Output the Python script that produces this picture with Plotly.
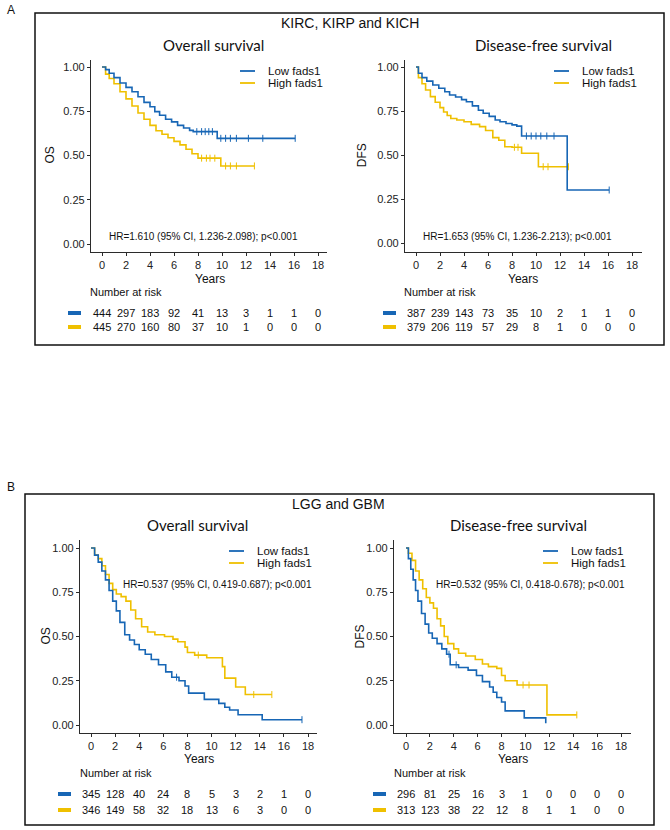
import plotly.graph_objects as go

W, H = 670, 830
BLUE = "#1766b5"
YELLOW = "#efc000"
FONT = "Liberation Sans, Arial, sans-serif"

# ---- data ----
years_ticks = [0, 2, 4, 6, 8, 10, 12, 14, 16, 18]

# A: KIRC, KIRP and KICH - overall survival
a_os_low_t = [0, 0.3, 0.6, 1.0, 1.5, 2.0, 2.5, 3.0, 3.5, 4.0, 4.4, 4.8, 5.3, 5.8, 6.3, 6.8, 7.3, 7.6, 9.6, 16.1]
a_os_low_s = [1.0, 0.985, 0.965, 0.94, 0.91, 0.885, 0.86, 0.832, 0.80, 0.775, 0.748, 0.727, 0.705, 0.69, 0.67, 0.655, 0.642, 0.635, 0.597, 0.597]
a_os_high_t = [0, 0.3, 0.6, 1.0, 1.5, 2.0, 2.5, 3.0, 3.5, 4.0, 4.5, 5.0, 5.5, 6.0, 6.5, 7.0, 7.5, 8.0, 9.9, 12.7]
a_os_high_s = [1.0, 0.96, 0.935, 0.905, 0.86, 0.82, 0.78, 0.74, 0.705, 0.67, 0.64, 0.62, 0.60, 0.58, 0.56, 0.535, 0.51, 0.485, 0.441, 0.441]
a_os_low_cens = [7.9, 8.3, 8.6, 8.9, 9.2, 9.9, 10.3, 10.7, 11.2, 12.2, 13.4, 16.1]
a_os_high_cens = [8.3, 8.7, 9.0, 9.4, 10.3, 10.7, 11.2, 12.7]

# A: disease-free survival
a_dfs_low_t = [0, 0.2, 0.5, 0.9, 1.4, 1.9, 2.4, 2.8, 3.3, 3.8, 4.2, 4.7, 5.2, 5.6, 6.1, 6.6, 7.0, 7.5, 8.0, 8.4, 8.8, 12.6, 16.1]
a_dfs_low_s = [1.0, 0.965, 0.94, 0.92, 0.898, 0.88, 0.86, 0.841, 0.83, 0.815, 0.803, 0.78, 0.755, 0.738, 0.72, 0.70, 0.69, 0.68, 0.672, 0.665, 0.609, 0.303, 0.303]
a_dfs_high_t = [0, 0.2, 0.5, 0.8, 1.2, 1.6, 2.0, 2.3, 2.6, 2.9, 3.4, 4.0, 4.6, 5.3, 5.8, 6.4, 6.9, 7.4, 8.0, 8.8, 10.2, 12.7]
a_dfs_high_s = [1.0, 0.94, 0.905, 0.87, 0.832, 0.80, 0.77, 0.745, 0.725, 0.708, 0.70, 0.69, 0.675, 0.662, 0.64, 0.60, 0.585, 0.548, 0.545, 0.511, 0.435, 0.435]
a_dfs_low_cens = [9.2, 9.6, 10.0, 10.4, 10.9, 11.5, 16.1]
a_dfs_high_cens = [8.2, 8.5, 10.6, 11.0, 12.7]

# B: LGG and GBM - overall survival
b_os_low_t = [0, 0.3, 0.6, 0.9, 1.2, 1.5, 1.8, 2.1, 2.4, 2.8, 3.2, 3.6, 4.0, 4.5, 5.0, 5.6, 6.2, 6.7, 7.3, 7.8, 8.1, 9.4, 10.6, 11.1, 11.5, 12.2, 14.2, 17.5]
b_os_low_s = [1.0, 0.96, 0.92, 0.87, 0.82, 0.76, 0.70, 0.645, 0.58, 0.51, 0.48, 0.455, 0.425, 0.40, 0.37, 0.34, 0.30, 0.27, 0.25, 0.22, 0.18, 0.145, 0.122, 0.10, 0.085, 0.058, 0.03, 0.03]
b_os_high_t = [0, 0.3, 0.6, 0.9, 1.2, 1.5, 1.8, 2.1, 2.5, 2.9, 3.3, 3.7, 4.2, 4.7, 5.3, 6.1, 6.8, 7.2, 7.8, 8.0, 8.6, 9.6, 10.9, 11.1, 12.0, 12.8, 15.0]
b_os_high_s = [1.0, 0.96, 0.94, 0.90, 0.85, 0.80, 0.765, 0.74, 0.725, 0.70, 0.65, 0.60, 0.555, 0.525, 0.51, 0.50, 0.485, 0.47, 0.44, 0.41, 0.395, 0.38, 0.33, 0.265, 0.215, 0.172, 0.172]
b_os_low_cens = [7.1, 17.5]
b_os_high_cens = [8.9, 13.5, 15.0]

# B: disease-free survival
b_dfs_low_t = [0, 0.2, 0.4, 0.6, 0.8, 1.0, 1.3, 1.6, 1.9, 2.2, 2.6, 3.0, 3.4, 3.7, 4.4, 5.2, 5.9, 6.4, 7.0, 7.3, 7.6, 8.0, 8.3, 9.9, 11.7]
b_dfs_low_s = [1.0, 0.94, 0.88, 0.82, 0.76, 0.70, 0.63, 0.57, 0.52, 0.49, 0.46, 0.43, 0.40, 0.34, 0.325, 0.31, 0.28, 0.245, 0.215, 0.185, 0.155, 0.13, 0.08, 0.04, 0.01]
b_dfs_high_t = [0, 0.2, 0.5, 0.8, 1.1, 1.4, 1.7, 2.0, 2.3, 2.6, 2.9, 3.2, 3.5, 4.0, 4.4, 5.0, 5.8, 6.4, 6.9, 7.6, 8.0, 8.3, 9.3, 11.8, 14.3]
b_dfs_high_s = [1.0, 0.97, 0.93, 0.87, 0.82, 0.77, 0.72, 0.69, 0.66, 0.60, 0.56, 0.50, 0.46, 0.43, 0.405, 0.39, 0.37, 0.345, 0.33, 0.32, 0.28, 0.25, 0.226, 0.057, 0.057]
b_dfs_low_cens = [3.6, 4.2]
b_dfs_high_cens = [9.8, 10.3, 14.3]

# numbers at risk
a_os_risk_low = [444, 297, 183, 92, 41, 13, 3, 1, 1, 0]
a_os_risk_high = [445, 270, 160, 80, 37, 10, 1, 0, 0, 0]
a_dfs_risk_low = [387, 239, 143, 73, 35, 10, 2, 1, 1, 0]
a_dfs_risk_high = [379, 206, 119, 57, 29, 8, 1, 0, 0, 0]
b_os_risk_low = [345, 128, 40, 24, 8, 5, 3, 2, 1, 0]
b_os_risk_high = [346, 149, 58, 32, 18, 13, 6, 3, 0, 0]
b_dfs_risk_low = [296, 81, 25, 16, 3, 1, 0, 0, 0, 0]
b_dfs_risk_high = [313, 123, 38, 22, 12, 8, 1, 1, 0, 0]

hr_texts = [
    "HR=1.610 (95% CI, 1.236-2.098); p<0.001",
    "HR=1.653 (95% CI, 1.236-2.213); p<0.001",
    "HR=0.537 (95% CI, 0.419-0.687); p<0.001",
    "HR=0.532 (95% CI, 0.418-0.678); p<0.001",
]


def fx(px):
    return px / W


def fy(py):
    return 1 - py / H


def step_at(ts, ss, c):
    val = ss[0]
    for t, s in zip(ts, ss):
        if t <= c:
            val = s
    return val


# layout of each panel in pixels
panels = [
    dict(low=(a_os_low_t, a_os_low_s, a_os_low_cens), high=(a_os_high_t, a_os_high_s, a_os_high_cens),
         risk=(a_os_risk_low, a_os_risk_high), ylab="OS", title="Overall survival", hr=hr_texts[0],
         left=91, right=327, x0=102, x18=318, top=60, y1=67, y0=244, bottom=252,
         hr_xy=(203, 236), leg=(240, 71), swatch=68, nar=(88, 292), rows=(313, 327),
         years=(210, 279), ylab_x=49, title_xy=(213, 45)),
    dict(low=(a_dfs_low_t, a_dfs_low_s, a_dfs_low_cens), high=(a_dfs_high_t, a_dfs_high_s, a_dfs_high_cens),
         risk=(a_dfs_risk_low, a_dfs_risk_high), ylab="DFS", title="Disease-free survival", hr=hr_texts[1],
         left=405, right=642, x0=416, x18=632, top=60, y1=67, y0=243.5, bottom=252,
         hr_xy=(517, 236), leg=(554, 71), swatch=383, nar=(402, 292), rows=(313, 327),
         years=(523, 279), ylab_x=362, title_xy=(543, 45)),
    dict(low=(b_os_low_t, b_os_low_s, b_os_low_cens), high=(b_os_high_t, b_os_high_s, b_os_high_cens),
         risk=(b_os_risk_low, b_os_risk_high), ylab="OS", title="Overall survival", hr=hr_texts[2],
         left=80, right=317, x0=91, x18=308, top=540, y1=548, y0=725, bottom=733,
         hr_xy=(217, 584), leg=(229, 551), swatch=58, nar=(78, 773), rows=(794, 810),
         years=(199, 759), ylab_x=45, title_xy=(197, 525)),
    dict(low=(b_dfs_low_t, b_dfs_low_s, b_dfs_low_cens), high=(b_dfs_high_t, b_dfs_high_s, b_dfs_high_cens),
         risk=(b_dfs_risk_low, b_dfs_risk_high), ylab="DFS", title="Disease-free survival", hr=hr_texts[3],
         left=394, right=631, x0=406, x18=621, top=540, y1=548, y0=725, bottom=733,
         hr_xy=(530, 584), leg=(543, 551), swatch=373, nar=(392, 773), rows=(794, 810),
         years=(513, 759), ylab_x=359, title_xy=(518, 525)),
]

fig = go.Figure()
annotations = []
shapes = []
layout = {}

for i, p in enumerate(panels, start=1):
    xa = "xaxis" if i == 1 else f"xaxis{i}"
    ya = "yaxis" if i == 1 else f"yaxis{i}"
    xr = "x" if i == 1 else f"x{i}"
    yr = "y" if i == 1 else f"y{i}"
    sx = (p["x18"] - p["x0"]) / 18.0
    sy = (p["y0"] - p["y1"])
    x_range = [(p["left"] - p["x0"]) / sx, (p["right"] - p["x0"]) / sx]
    y_range = [(p["y0"] - p["bottom"]) / sy, (p["y0"] - p["top"]) / sy]
    axis_common = dict(showline=True, linecolor="#2b2b2b", linewidth=1.3, ticks="outside",
                       ticklen=3, tickcolor="#2b2b2b", showgrid=False, zeroline=False,
                       tickfont=dict(family=FONT, size=11, color="#222"))
    layout[xa] = dict(axis_common, domain=[fx(p["left"]), fx(p["right"])], range=x_range,
                      tickvals=years_ticks, anchor=yr)
    layout[ya] = dict(axis_common, domain=[fy(p["bottom"]), fy(p["top"])], range=y_range,
                      tickvals=[0, 0.25, 0.5, 0.75, 1.0], ticktext=["0.00", "0.25", "0.50", "0.75", "1.00"],
                      anchor=xr)

    for (ts, ss, cens), col in ((p["high"], YELLOW), (p["low"], BLUE)):
        fig.add_trace(go.Scatter(x=ts, y=ss, mode="lines", line=dict(color=col, width=1.6, shape="hv"),
                                 xaxis=xr, yaxis=yr, showlegend=False))
        fig.add_trace(go.Scatter(x=cens, y=[step_at(ts, ss, c) for c in cens], mode="markers",
                                 marker=dict(symbol="line-ns-open", size=5, color=col,
                                             line=dict(color=col, width=1)),
                                 xaxis=xr, yaxis=yr, showlegend=False))

    # legend
    lx, ly = p["leg"]
    for k, (col, name) in enumerate(((BLUE, "Low fads1"), (YELLOW, "High fads1"))):
        yy = ly + 12 * k
        shapes.append(dict(type="line", xref="paper", yref="paper", x0=fx(lx), x1=fx(lx + 15),
                           y0=fy(yy), y1=fy(yy), line=dict(color=col, width=1.8)))
        annotations.append(dict(text=name, x=fx(lx + 26), y=fy(yy), xref="paper", yref="paper",
                                xanchor="left", yanchor="middle", showarrow=False,
                                font=dict(family=FONT, size=11.5, color="#111")))

    annotations.append(dict(text=p["hr"], x=fx(p["hr_xy"][0]), y=fy(p["hr_xy"][1]), xref="paper", yref="paper",
                            xanchor="center", yanchor="middle", showarrow=False,
                            font=dict(family=FONT, size=10, color="#111")))
    annotations.append(dict(text=p["title"], x=fx(p["title_xy"][0]), y=fy(p["title_xy"][1]),
                            xref="paper", yref="paper", xanchor="center", yanchor="middle", showarrow=False,
                            font=dict(family="Lato, Open Sans, sans-serif", size=15, color="#111")))
    annotations.append(dict(text=p["ylab"], x=fx(p["ylab_x"]), y=fy((p["y1"] + p["y0"]) / 2),
                            xref="paper", yref="paper", xanchor="center", yanchor="middle", showarrow=False,
                            textangle=-90, font=dict(family=FONT, size=12, color="#111")))
    annotations.append(dict(text="Years", x=fx(p["years"][0]), y=fy(p["years"][1]), xref="paper", yref="paper",
                            xanchor="center", yanchor="middle", showarrow=False,
                            font=dict(family=FONT, size=12, color="#111")))
    annotations.append(dict(text="Number at risk", x=fx(p["nar"][0]), y=fy(p["nar"][1]), xref="paper",
                            yref="paper", xanchor="left", yanchor="middle", showarrow=False,
                            font=dict(family=FONT, size=11, color="#111")))

    # risk table
    for row_y, vals, col in ((p["rows"][0], p["risk"][0], BLUE), (p["rows"][1], p["risk"][1], YELLOW)):
        shapes.append(dict(type="line", xref="paper", yref="paper", x0=fx(p["swatch"]), x1=fx(p["swatch"] + 13),
                           y0=fy(row_y), y1=fy(row_y), line=dict(color=col, width=4)))
        for t, v in zip(years_ticks, vals):
            annotations.append(dict(text=str(v), x=t, xref=xr, y=fy(row_y), yref="paper",
                                    xanchor="center", yanchor="middle", showarrow=False,
                                    font=dict(family=FONT, size=11, color="#111")))

# panel boxes and titles
for (l, t, r, b) in ((35, 13, 664, 345), (25, 494, 654, 825)):
    shapes.append(dict(type="rect", xref="paper", yref="paper", x0=fx(l), x1=fx(r), y0=fy(b), y1=fy(t),
                       line=dict(color="#111", width=1.5)))
for txt, x, y in (("KIRC, KIRP and KICH", 350, 23), ("LGG and GBM", 338, 504)):
    annotations.append(dict(text=txt, x=fx(x), y=fy(y), xref="paper", yref="paper", xanchor="center",
                            yanchor="middle", showarrow=False, font=dict(family=FONT, size=14, color="#111")))
for txt, x, y in (("A", 5, 10), ("B", 5, 487)):
    annotations.append(dict(text=txt, x=fx(x), y=fy(y), xref="paper", yref="paper", xanchor="left",
                            yanchor="middle", showarrow=False, font=dict(family=FONT, size=12, color="#111")))

fig.update_layout(width=W, height=H, margin=dict(l=0, r=0, t=0, b=0), plot_bgcolor="white",
                  paper_bgcolor="white", showlegend=False, annotations=annotations, shapes=shapes, **layout)

# drop the page's default body margin so the figure sits at the window's corner
fig.write_html("out.html", config={"displayModeBar": False},
               post_script="document.body.style.margin='0';")
